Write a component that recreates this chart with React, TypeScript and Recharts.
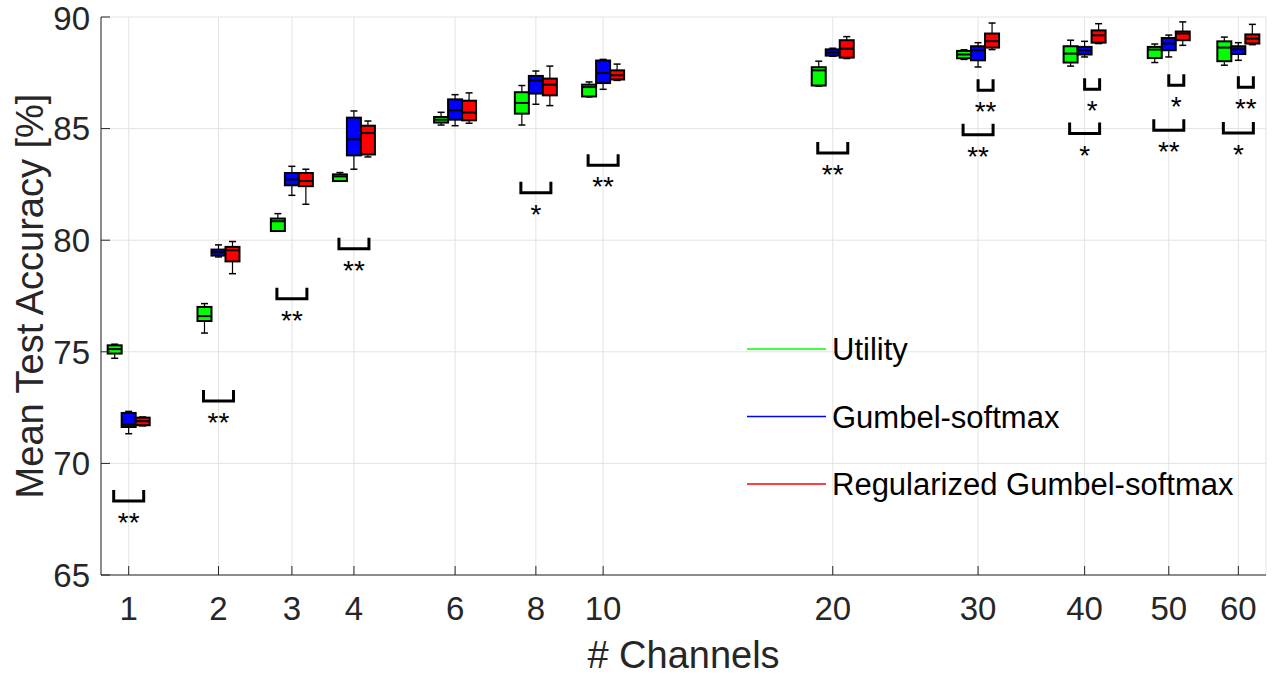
import React from "react";
import {
  ComposedChart,
  Bar,
  Scatter,
  XAxis,
  YAxis,
  CartesianGrid,
  Legend,
} from "recharts";

const FONT = "'Liberation Sans', Arial, Helvetica, sans-serif";

// number of channels (x axis, log spaced with an offset of 3)
const channels = [1, 2, 3, 4, 6, 8, 10, 20, 30, 40, 50, 60];

// series, in legend order
const seriesNames = ["Utility", "Gumbel-softmax", "Regularized Gumbel-softmax"];
const seriesColors = ["#00ff00", "#0000ff", "#ff0000"];

// box stats per channel: [min, q1, median, q3, max] in %
const utilityStats = [
  [74.71, 74.92, 75.12, 75.29, 75.34],
  [75.84, 76.38, 76.6, 77.01, 77.16],
  [80.4, 80.41, 80.85, 80.97, 81.19],
  [82.64, 82.65, 82.86, 82.95, 83.03],
  [85.16, 85.27, 85.4, 85.52, 85.73],
  [85.16, 85.67, 86.15, 86.63, 86.93],
  [86.42, 86.44, 86.86, 86.97, 87.09],
  [86.9, 86.93, 87.61, 87.75, 88.02],
  [88.1, 88.15, 88.32, 88.48, 88.53],
  [87.8, 87.96, 88.36, 88.69, 88.96],
  [87.96, 88.16, 88.54, 88.66, 88.79],
  [87.84, 88.02, 88.63, 88.91, 89.1],
];

const gumbelStats = [
  [71.33, 71.63, 71.74, 72.26, 72.33],
  [79.25, 79.31, 79.46, 79.58, 79.79],
  [82.01, 82.46, 82.72, 83.01, 83.31],
  [83.18, 83.8, 84.52, 85.49, 85.79],
  [85.13, 85.4, 85.82, 86.31, 86.52],
  [86.09, 86.57, 87.16, 87.36, 87.58],
  [86.76, 87.04, 87.49, 88.05, 88.1],
  [88.24, 88.27, 88.41, 88.55, 88.6],
  [87.76, 88.06, 88.51, 88.69, 88.85],
  [88.21, 88.32, 88.51, 88.66, 88.91],
  [88.21, 88.51, 88.81, 89.06, 89.19],
  [88.06, 88.34, 88.55, 88.69, 88.85],
];

const regGumbelStats = [
  [71.68, 71.71, 71.89, 72.05, 72.08],
  [78.5, 79.05, 79.55, 79.7, 79.94],
  [81.61, 82.42, 82.65, 83.01, 83.18],
  [83.73, 83.84, 84.8, 85.13, 85.34],
  [85.24, 85.37, 85.72, 86.25, 86.6],
  [86.03, 86.49, 86.97, 87.24, 87.8],
  [87.16, 87.2, 87.39, 87.61, 87.89],
  [88.14, 88.18, 88.58, 88.96, 89.12],
  [88.54, 88.63, 88.92, 89.26, 89.73],
  [88.81, 88.85, 89.18, 89.4, 89.7],
  [88.73, 88.96, 89.26, 89.35, 89.78],
  [88.76, 88.81, 89.03, 89.22, 89.67],
];

// significance brackets Utility vs Regularized
const wideBracketChannels = [1, 2, 3, 4, 8, 10, 20, 30, 40, 50, 60];
const wideBracketLevels = [68.32, 72.8, 77.38, 79.62, 82.13, 83.36, 83.91, 84.73, 84.78, 84.93, 84.8];
const wideBracketMarks = ["**", "**", "**", "**", "*", "**", "**", "**", "*", "**", "*"];

// significance brackets Gumbel vs Regularized
const narrowBracketChannels = [30, 40, 50, 60];
const narrowBracketLevels = [86.72, 86.76, 86.94, 86.85];
const narrowBracketMarks = ["**", "*", "*", "**"];

const yTicks = [65, 70, 75, 80, 85, 90];

const chartData = channels.map((ch, i) => ({
  ch,
  utility: utilityStats[i],
  gumbel: gumbelStats[i],
  reg: regGumbelStats[i],
}));

const wideBrackets = wideBracketChannels.map((ch, i) => ({
  ch,
  level: wideBracketLevels[i],
  mark: wideBracketMarks[i],
}));

const narrowBrackets = narrowBracketChannels.map((ch, i) => ({
  ch,
  level: narrowBracketLevels[i],
  mark: narrowBracketMarks[i],
}));

const xPos = (d: any) => (d && d.ch != null ? d.ch + 3 : null);
const xTicks = channels.map((c) => c + 3);

// bar spans min..max of the box
const rangeOf = (key: string) => (d: any) => {
  const s = d ? d[key] : null;
  return s ? [s[0], s[4]] : null;
};

// box + whiskers, drawn inside the bar's min..max rectangle
const makeBox = (key: string) => (props: any) => {
  const { x, y, width, height, payload, fill } = props;
  const s = payload ? payload[key] : null;
  if (!s || x == null || y == null) return <g />;
  const top = Math.min(y, y + height);
  const h = Math.abs(height);
  const span = s[4] - s[0];
  const py = (v: number) => (span > 0 ? top + ((s[4] - v) / span) * h : top);
  const cx = x + width / 2;
  return (
    <g>
      <line x1={cx} x2={cx} y1={py(s[4])} y2={py(s[3])} stroke="#000" strokeWidth={1.2} />
      <line x1={cx} x2={cx} y1={py(s[1])} y2={py(s[0])} stroke="#000" strokeWidth={1.2} />
      <line x1={cx - 3.5} x2={cx + 3.5} y1={py(s[4])} y2={py(s[4])} stroke="#000" strokeWidth={1.5} />
      <line x1={cx - 3.5} x2={cx + 3.5} y1={py(s[0])} y2={py(s[0])} stroke="#000" strokeWidth={1.5} />
      <rect
        x={x}
        y={py(s[3])}
        width={width}
        height={Math.max(py(s[1]) - py(s[3]), 1)}
        fill={fill}
        stroke="#000"
        strokeWidth={2}
      />
      <line x1={x} x2={x + width} y1={py(s[2])} y2={py(s[2])} stroke="#000" strokeWidth={2} />
    </g>
  );
};

const makeBracket = (x0: number, x1: number) => (props: any) => {
  const { cx, cy, payload } = props;
  if (cx == null || cy == null || !payload) return <g />;
  return (
    <g>
      <path
        d={`M${cx + x0},${cy - 11}V${cy}H${cx + x1}V${cy - 11}`}
        fill="none"
        stroke="#000"
        strokeWidth={3}
      />
      <text
        x={cx + (x0 + x1) / 2}
        y={cy + 31}
        textAnchor="middle"
        fontSize={28}
        fontFamily={FONT}
        fill="#000"
      >
        {payload.mark}
      </text>
    </g>
  );
};

// legend keeps the series order and colours of the named lists
const renderLegend = () => (
  <svg width={520} height={204} style={{ display: "block" }}>
    {seriesNames.map((name, i) => {
      const cy = 34 + i * 67.5;
      return (
        <g key={name}>
          <line x1={0} x2={79} y1={cy} y2={cy} stroke={seriesColors[i]} strokeWidth={1.5} />
          <text x={85} y={cy + 11} fontSize={31} fontFamily={FONT} fill="#000">
            {name}
          </text>
        </g>
      );
    })}
  </svg>
);

const YLabel = (props: any) => {
  const { viewBox } = props;
  if (!viewBox) return null;
  const bx = viewBox.x + 43;
  const by = viewBox.y + viewBox.height / 2;
  return (
    <text
      x={bx}
      y={by}
      transform={`rotate(-90 ${bx} ${by})`}
      textAnchor="middle"
      fontSize={38}
      fontFamily={FONT}
      fill="#262626"
    >
      Mean Test Accuracy [%]
    </text>
  );
};

const tickStyle = { fontSize: 33, fill: "#262626", fontFamily: FONT };
const statKeys = ["utility", "gumbel", "reg"];

export default function App() {
  return (
    <div style={{ position: "absolute", left: 0, top: 0, width: 1275, height: 675, background: "#fff" }}>
      <ComposedChart
        width={1275}
        height={675}
        data={chartData}
        margin={{ top: 17, right: 9, left: 0, bottom: 0 }}
        barGap={0}
        barCategoryGap={0}
      >
        <CartesianGrid stroke="#e3e3e3" strokeWidth={1} />
        <XAxis
          type="number"
          scale="log"
          dataKey={xPos}
          domain={[3.734, 67.48]}
          ticks={xTicks}
          allowDataOverflow
          tickFormatter={(v: number) => String(Math.round(v - 3))}
          height={100}
          tickSize={-9}
          tickMargin={31}
          tick={tickStyle}
          stroke="#262626"
          label={{
            value: "# Channels",
            position: "insideBottom",
            offset: 7,
            fontSize: 38,
            fill: "#262626",
            fontFamily: FONT,
          }}
        />
        <XAxis
          xAxisId="top"
          orientation="top"
          type="number"
          scale="log"
          dataKey={xPos}
          domain={[3.734, 67.48]}
          ticks={xTicks}
          allowDataOverflow
          height={0}
          tickSize={-9}
          tick={() => <g />}
          stroke="#262626"
        />
        <YAxis
          type="number"
          domain={[65, 90]}
          ticks={yTicks}
          allowDataOverflow
          width={101}
          tickSize={-9}
          tickMargin={20}
          tick={tickStyle}
          stroke="#262626"
          label={<YLabel />}
        />
        <YAxis
          yAxisId="right"
          orientation="right"
          type="number"
          domain={[65, 90]}
          ticks={yTicks}
          allowDataOverflow
          width={0}
          tickSize={-9}
          tick={() => <g />}
          stroke="#262626"
        />
        <Legend
          layout="vertical"
          align="center"
          verticalAlign="middle"
          content={renderLegend}
          wrapperStyle={{ left: 747, top: 315, width: 520 }}
        />
        {seriesNames.map((name, i) => (
          <Bar
            key={name}
            name={name}
            dataKey={rangeOf(statKeys[i])}
            fill={seriesColors[i]}
            barSize={14}
            shape={makeBox(statKeys[i])}
            isAnimationActive={false}
          />
        ))}
        <Scatter
          data={wideBrackets}
          dataKey="level"
          legendType="none"
          shape={makeBracket(-15, 15)}
          isAnimationActive={false}
        />
        <Scatter
          data={narrowBrackets}
          dataKey="level"
          legendType="none"
          shape={makeBracket(0, 15)}
          isAnimationActive={false}
        />
      </ComposedChart>
    </div>
  );
}
